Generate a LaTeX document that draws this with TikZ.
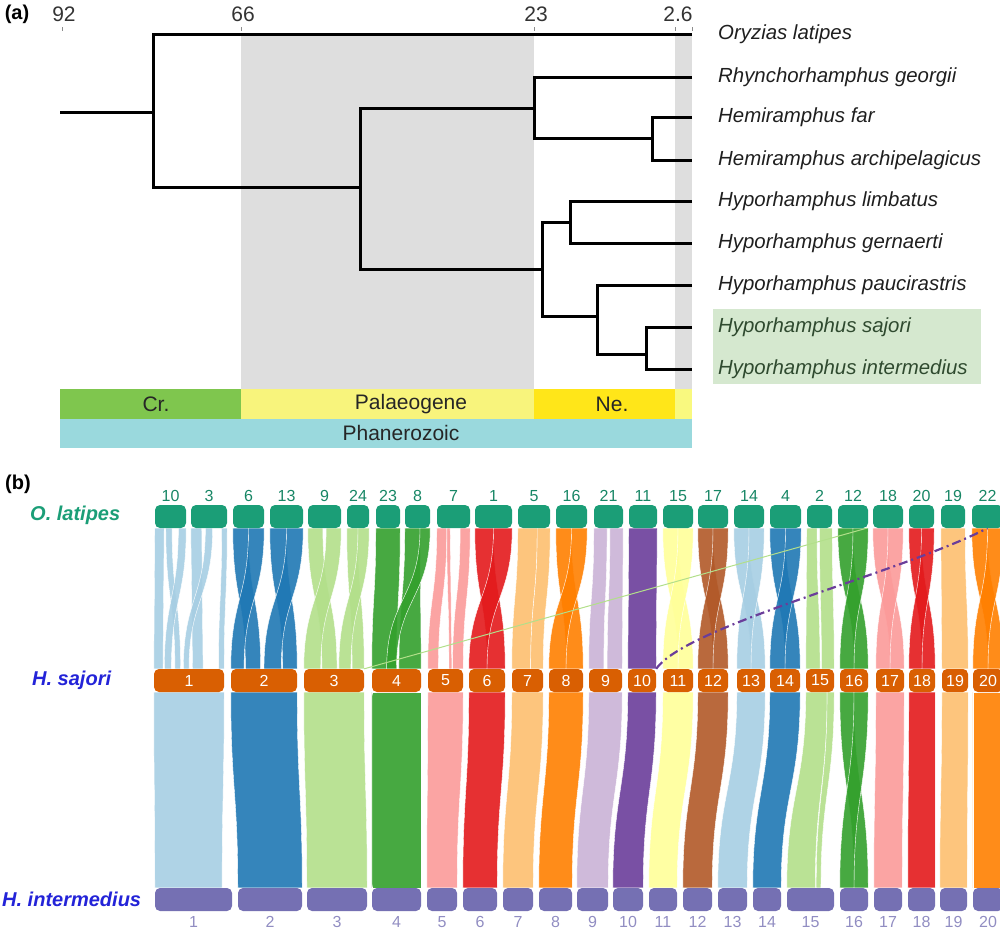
\documentclass[tikz,border=0pt]{standalone}
\usepackage{fontspec}
\setmainfont{Liberation Sans}
\usetikzlibrary{calc}
\pgfdeclarelayer{bg}
\pgfsetlayers{bg,main}

\definecolor{p1}{HTML}{A6CEE3}
\definecolor{p2}{HTML}{1F78B4}
\definecolor{p3}{HTML}{B2DF8A}
\definecolor{p4}{HTML}{33A02C}
\definecolor{p5}{HTML}{FB9A99}
\definecolor{p6}{HTML}{E31A1C}
\definecolor{p7}{HTML}{FDBF6F}
\definecolor{p8}{HTML}{FF7F00}
\definecolor{p9}{HTML}{CAB2D6}
\definecolor{p10}{HTML}{6A3D9A}
\definecolor{p11}{HTML}{FFFF99}
\definecolor{p12}{HTML}{B15928}
\definecolor{olat}{HTML}{1B9E77}
\definecolor{hsaj}{HTML}{D95F02}
\definecolor{hint}{HTML}{7570B3}
\definecolor{spblue}{HTML}{2323D8}
\definecolor{cret}{HTML}{7FC64E}
\definecolor{paleo}{HTML}{F8F47C}
\definecolor{neo}{HTML}{FFE619}
\definecolor{quat}{HTML}{F9F97F}
\definecolor{phan}{HTML}{9AD9DD}
\definecolor{hili}{HTML}{D5E8CF}
\definecolor{hitext}{HTML}{2F4A2F}

% ribbon: top node, from, to, bottom node, from, to, colour
\newcommand{\rib}[7]{%
  \fill[rib, fill=#7] ($(#1.south west)!#2!(#1.south east)$)
    .. controls +(0,\ribd) and +(0,-\ribd) .. ($(#4.north west)!#5!(#4.north east)$)
    -- ($(#4.north west)!#6!(#4.north east)$)
    .. controls +(0,-\ribd) and +(0,\ribd) .. ($(#1.south west)!#3!(#1.south east)$) -- cycle;}

\begin{document}
\begin{tikzpicture}[x=1pt, y=-1pt,
  branch/.style={line width=3pt, line join=miter},
  sp/.style={anchor=west, inner sep=0pt, text height=14pt, text depth=4pt,
    font=\fontsize{20.4}{24}\selectfont\itshape, text=black!88},
  tick/.style={font=\fontsize{21}{25}\selectfont, text=black!80},
  era/.style={font=\fontsize{21}{25}\selectfont, text=black!85},
  panel/.style={font=\fontsize{20}{24}\selectfont\bfseries},
  spname/.style={anchor=west, inner sep=0pt, font=\fontsize{20}{24}\selectfont\bfseries\itshape},
  chrom/.style={rounded corners=5pt, minimum height=23pt, inner sep=0pt},
  obox/.style={chrom, fill=olat},
  sbox/.style={chrom, fill=hsaj, text=white, font=\fontsize{16}{18}\selectfont},
  ibox/.style={chrom, fill=hint},
  numtop/.style={inner sep=0pt, label distance=3pt, text=olat!85!black, font=\fontsize{16}{18}\selectfont},
  numbot/.style={inner sep=0pt, label distance=5pt, text=hint!80, font=\fontsize{16}{18}\selectfont},
  rib/.style={fill opacity=.9, draw=white, line width=.4pt}]

\useasboundingbox (0,0) rectangle (1000,932);

% (a) dated tree
\fill[black!13] (241,34) rectangle (534,389);
\fill[black!13] (675,34) rectangle (692,389);
\fill[hili] (713,309) rectangle (981,384);

\node[panel] (la) at (17,14) {(a)};
\foreach \x/\t/\nm in {62/92/l92, 241/66/l66, 534/23/l23} {
  \draw[black!45, line width=.6pt] (\x,27) -- (\x,31);
  \node[tick] (\nm) at (\x+2,14) {\t};
}
\draw[black!45, line width=.6pt] (675,27) -- (675,31);
\draw[black!45, line width=.6pt] (692,27) -- (692,31);
\node[tick] (l26) at (678,14) {2.6};

\fill[cret] (60,389) rectangle (241,419);
\fill[paleo] (241,389) rectangle (534,419);
\fill[neo] (534,389) rectangle (675,419);
\fill[quat] (675,389) rectangle (692,419);
\fill[phan] (60,419) rectangle (692,448);
\node[era] (cr) at (156,404) {Cr.};
\node[era] (pg) at (411,404) {Palaeogene};
\node[era] (ng) at (612,404) {Ne.};
\node[era] (ph) at (401,433) {Phanerozoic};

\foreach \i/\y/\nm in {1/34/Oryzias latipes, 2/77/Rhynchorhamphus georgii,
    3/117/Hemiramphus far, 4/160/Hemiramphus archipelagicus,
    5/201/Hyporhamphus limbatus, 6/243/Hyporhamphus gernaerti,
    7/285/Hyporhamphus paucirastris} {
  \node[sp] (sp\i) at (718,\y) {\nm};
  \coordinate (t\i) at (692,\y);
}
\node[sp, text=hitext] (sp8) at (718,327) {Hyporhamphus sajori};
\node[sp, text=hitext] (sp9) at (718,369) {Hyporhamphus intermedius};
\coordinate (t8) at (692,327);
\coordinate (t9) at (692,369);

\coordinate (root) at (60,112);
\coordinate (nA) at (153,112);
\coordinate (nB) at (360,187);
\coordinate (nC) at (534,108);
\coordinate (nD) at (652,138);
\coordinate (nE) at (542,269);
\coordinate (nF) at (570,222);
\coordinate (nG) at (597,316);
\coordinate (nH) at (646,354);

\draw[branch] (root) -- (nA);
\draw[branch] (t1) -| (nA) |- (nB);
\draw[branch] (nC) -| (nB) |- (nE);
\draw[branch] (t2) -| (nC) |- (nD);
\draw[branch] (t3) -| (nD) |- (t4);
\draw[branch] (nF) -| (nE) |- (nG);
\draw[branch] (t5) -| (nF) |- (t6);
\draw[branch] (t7) -| (nG) |- (nH);
\draw[branch] (t8) -| (nH) |- (t9);

% (b) synteny
\node[panel] (lb) at (18,484) {(b)};
\node[spname, text=olat] (olab) at (30,515) {O. latipes};
\node[spname, text=spblue] (slab) at (32,680) {H. sajori};
\node[spname, text=spblue] (ilab) at (2,899) {H. intermedius};

\foreach \n/\l/\r in {10/155/186, 3/191/227, 6/233/264, 13/270/303, 9/308/341,
    24/347/369, 23/376/400, 8/405/430, 7/437/470, 1/475/512, 5/518/550,
    16/556/587, 21/594/623, 11/629/657, 15/663/693, 17/698/728, 14/734/764,
    4/770/801, 2/807/832, 12/838/868, 18/873/903, 20/909/934, 19/941/965, 22/972/1003}
  \node[obox, minimum width={\r-\l}, label={[numtop]above:\n}] (o\n) at ({(\l+\r)/2},516.5) {};

\foreach \n/\l/\r in {1/154/224, 2/231/297, 3/304/364, 4/372/421, 5/428/463,
    6/469/505, 7/512/543, 8/549/583, 9/589/622, 10/628/656, 11/663/693,
    12/698/728, 13/737/765, 14/770/800, 15/806/834, 16/840/868, 17/876/904,
    18/909/935, 19/942/968, 20/973/1003}
  \node[sbox, minimum width={\r-\l}] (s\n) at ({(\l+\r)/2},680.5) {\n};

\foreach \n/\l/\r in {1/155/232, 2/238/302, 3/307/367, 4/372/421, 5/427/457,
    6/463/497, 7/503/533, 8/539/572, 9/577/608, 10/613/643, 11/649/677,
    12/683/712, 13/718/747, 14/753/781, 15/787/834, 16/840/868, 17/874/902,
    18/908/935, 19/940/967, 20/973/1003}
  \node[ibox, minimum width={\r-\l}, label={[numbot]below:\n}] (i\n) at ({(\l+\r)/2},899.5) {};

\begin{pgfonlayer}{bg}
\def\ribd{70}
\rib{o10}{0}{.3}{s1}{0}{.13}{p1}
\rib{o10}{.35}{.55}{s1}{.3}{.38}{p1}
\rib{o10}{.75}{1}{s1}{.15}{.25}{p1}
\rib{o3}{0}{.3}{s1}{.55}{.7}{p1}
\rib{o3}{.4}{.6}{s1}{.42}{.5}{p1}
\rib{o3}{.85}{1}{s1}{.92}{1}{p1}
\rib{o6}{0}{.5}{s2}{.22}{.45}{p2}
\rib{o6}{.5}{1}{s2}{0}{.2}{p2}
\rib{o13}{0}{.5}{s2}{.78}{1}{p2}
\rib{o13}{.5}{1}{s2}{.5}{.76}{p2}
\rib{o9}{0}{.45}{s3}{.3}{.55}{p3}
\rib{o9}{.55}{1}{s3}{0}{.28}{p3}
\rib{o24}{0}{.5}{s3}{.8}{1}{p3}
\rib{o24}{.5}{1}{s3}{.58}{.78}{p3}
\rib{o23}{0}{1}{s4}{0}{.5}{p4}
\rib{o8}{0}{.6}{s4}{.55}{1}{p4}
\rib{o8}{.6}{1}{s4}{.3}{.5}{p4}
\rib{o7}{0}{.3}{s5}{0}{.3}{p5}
\rib{o7}{.3}{.4}{s5}{.6}{.68}{p5}
\rib{o7}{.7}{1}{s5}{.7}{1}{p5}
\rib{o1}{0}{.5}{s6}{.5}{1}{p6}
\rib{o1}{.5}{1}{s6}{0}{.5}{p6}
\rib{o5}{0}{.6}{s7}{0}{.6}{p7}
\rib{o5}{.6}{1}{s7}{.6}{1}{p7}
\rib{o16}{0}{.5}{s8}{.5}{1}{p8}
\rib{o16}{.5}{1}{s8}{0}{.5}{p8}
\rib{o21}{0}{.45}{s9}{0}{.45}{p9}
\rib{o21}{.55}{1}{s9}{.55}{1}{p9}
\rib{o11}{0}{1}{s10}{0}{1}{p10}
\rib{o15}{0}{.5}{s11}{.5}{1}{p11}
\rib{o15}{.5}{1}{s11}{0}{.5}{p11}
\rib{o17}{0}{.5}{s12}{.5}{1}{p12}
\rib{o17}{.5}{1}{s12}{0}{.5}{p12}
\rib{o14}{0}{.5}{s13}{.5}{1}{p1}
\rib{o14}{.5}{1}{s13}{0}{.5}{p1}
\rib{o4}{0}{.5}{s14}{.5}{1}{p2}
\rib{o4}{.5}{1}{s14}{0}{.5}{p2}
\rib{o2}{0}{.4}{s15}{0}{.5}{p3}
\rib{o2}{.5}{1}{s15}{.55}{1}{p3}
\rib{o12}{0}{.5}{s16}{.5}{1}{p4}
\rib{o12}{.5}{1}{s16}{0}{.5}{p4}
\rib{o18}{0}{.5}{s17}{.5}{1}{p5}
\rib{o18}{.5}{1}{s17}{0}{.5}{p5}
\rib{o20}{0}{.5}{s18}{.5}{1}{p6}
\rib{o20}{.5}{1}{s18}{0}{.5}{p6}
\rib{o19}{0}{1}{s19}{0}{1}{p7}
\rib{o22}{0}{.5}{s20}{.5}{1}{p8}
\rib{o22}{.5}{1}{s20}{0}{.5}{p8}

\def\ribd{95}
\rib{s1}{0}{1}{i1}{0}{.87}{p1}
\foreach \n/\c in {2/p2, 3/p3, 4/p4, 5/p5, 6/p6, 7/p7, 8/p8, 9/p9, 10/p10,
    11/p11, 12/p12, 13/p1, 14/p2, 17/p5, 18/p6, 19/p7, 20/p8}
  {\rib{s\n}{0}{1}{i\n}{0}{1}{\c}}
\rib{s15}{0}{.75}{i15}{0}{.6}{p3}
\rib{s15}{.75}{1}{i15}{.62}{.72}{p3}
\rib{s16}{0}{.5}{i16}{.5}{1}{p4}
\rib{s16}{.5}{1}{i16}{0}{.5}{p4}

\draw[p3, line width=1pt] (s3.north east) -- ($(o12.south west)!.95!(o12.south east)$);
\draw[p10, line width=2.2pt, dash pattern=on 9pt off 4pt on 2pt off 4pt]
  (s10.north east) .. controls +(30,-43) and +(-88,45) .. ($(o22.south west)!.5!(o22.south east)$);
\end{pgfonlayer}

\end{tikzpicture}
\end{document}
